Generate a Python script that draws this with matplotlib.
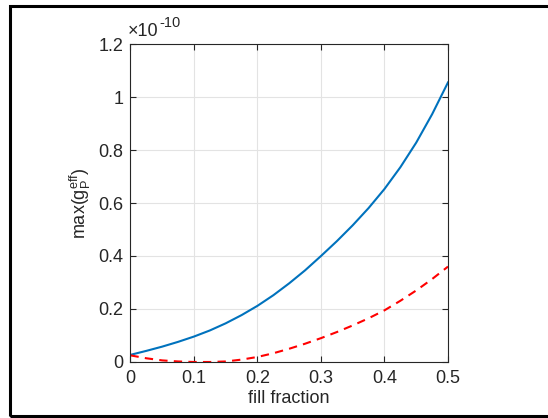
import numpy as np
import matplotlib
matplotlib.use('Agg')
import matplotlib.pyplot as plt
from matplotlib.patches import Rectangle

plt.rcParams['font.family'] = ['Liberation Sans', 'DejaVu Sans']
plt.rcParams['mathtext.fontset'] = 'custom'
plt.rcParams['mathtext.rm'] = 'Liberation Sans'
plt.rcParams['mathtext.it'] = 'Liberation Sans'

# values, y in units of 1e-10
fill_fraction = [0.0, 0.025, 0.05, 0.075, 0.1, 0.125, 0.15, 0.175, 0.2, 0.225, 0.25,
                 0.275, 0.3, 0.325, 0.35, 0.375, 0.4, 0.425, 0.45, 0.475, 0.5]
g_max_blue = [0.027, 0.042, 0.058, 0.076, 0.096, 0.119, 0.146, 0.177, 0.212, 0.252, 0.297,
              0.346, 0.400, 0.456, 0.516, 0.581, 0.653, 0.735, 0.828, 0.935, 1.055]
g_max_red = [0.025, 0.014, 0.006, 0.002, 0.000, 0.000, 0.002, 0.009, 0.019, 0.033, 0.050,
             0.069, 0.090, 0.113, 0.138, 0.165, 0.195, 0.231, 0.270, 0.313, 0.360]
x_ticks = [0, 0.1, 0.2, 0.3, 0.4, 0.5]
x_ticklabels = ['0', '0.1', '0.2', '0.3', '0.4', '0.5']
y_ticks = [0, 0.2, 0.4, 0.6, 0.8, 1.0, 1.2]
y_ticklabels = ['0', '0.2', '0.4', '0.6', '0.8', '1', '1.2']

dark = '#262626'

fig = plt.figure(figsize=(5.48, 4.18), dpi=100)
ax = fig.add_axes([0.2381, 0.134, 0.5794, 0.7607])

ax.plot(fill_fraction, g_max_blue, color='#0072BD', lw=1.5)
ax.plot(fill_fraction, g_max_red, color='#FF0000', lw=1.5, ls='--', dashes=(4, 3))

ax.set_xlim(0, 0.5)
ax.set_ylim(0, 1.2)
ax.set_xticks(x_ticks)
ax.set_xticklabels(x_ticklabels)
ax.set_yticks(y_ticks)
ax.set_yticklabels(y_ticklabels)

ax.grid(True, color='#e3e3e3', lw=0.8)
ax.set_axisbelow(True)
ax.tick_params(direction='in', length=4, width=0.8, colors=dark, labelsize=13,
               top=True, right=True)
ax.tick_params(axis='x', pad=6)
ax.tick_params(axis='y', pad=5)
for sp in ax.spines.values():
    sp.set_color(dark)
    sp.set_linewidth(0.8)

ax.set_xlabel('fill fraction', fontsize=13, color=dark, labelpad=2)
ax.set_ylabel(r'max(g$_\mathregular{P}^\mathregular{eff}$)', fontsize=13, color=dark, labelpad=4)

# exponent label in the top-left corner, as in the original
ax.text(-0.01, 1.012, '\u00d710', transform=ax.transAxes,
        fontsize=13, color=dark, ha='left', va='bottom')
ax.text(0.092, 1.045, '-10', transform=ax.transAxes,
        fontsize=10.5, color=dark, ha='left', va='bottom')

# outer frame around the figure
fig.patches.append(Rectangle((10 / 548, 2 / 418), 560 / 548, 410 / 418,
                             transform=fig.transFigure, fill=False,
                             edgecolor='black', lw=2.2))

fig.savefig('out.png', dpi=100)
